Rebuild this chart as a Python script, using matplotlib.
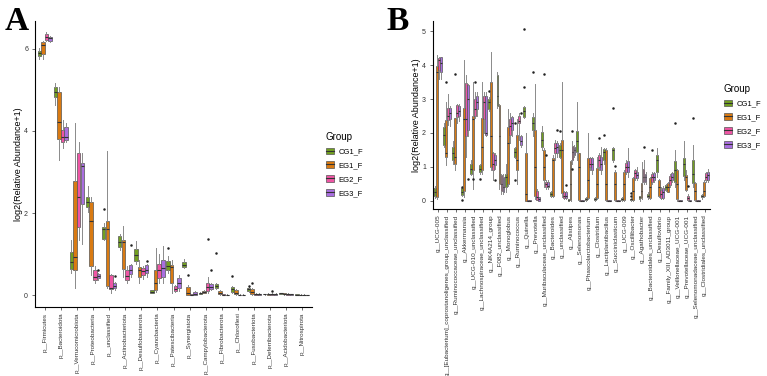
import matplotlib
matplotlib.use('Agg')
import matplotlib.pyplot as plt
from matplotlib.patches import Patch
from matplotlib.lines import Line2D

plt.rcParams['font.family'] = ['Liberation Sans', 'DejaVu Sans']

groups = ['CG1_F', 'EG1_F', 'EG2_F', 'EG3_F']
colors = ['#72a020', '#d97a12', '#ee55a4', '#a96ee0']

# ---- panel A: phyla, (whisker low, q1, median, q3, whisker high) ----
phyla = ['p__Firmicutes', 'p__Bacteroidota', 'p__Verrucomicrobiota', 'p__Proteobacteria',
         'p__unclassified', 'p__Actinobacteriota', 'p__Desulfobacterota', 'p__Cyanobacteria',
         'p__Patescibacteria', 'p__Synergistota', 'p__Campylobacterota', 'p__Fibrobacterota',
         'p__Chloroflexi', 'p__Fusobacteriota', 'p__Deferribacterota', 'p__Acidobacteriota',
         'p__Nitrospirota']

A_CG1 = [(5.75, 5.83, 5.9, 5.96, 6.02), (4.63, 4.82, 4.96, 5.08, 5.18), (0.55, 0.63, 0.8, 1.05, 1.35),
         (2.03, 2.15, 2.28, 2.4, 2.67), (1.34, 1.37, 1.6, 1.67, 1.75), (1.1, 1.17, 1.3, 1.44, 1.48),
         (0.77, 0.83, 0.98, 1.12, 1.33), (0.05, 0.06, 0.08, 0.12, 0.13), (0.55, 0.6, 0.7, 0.83, 0.95),
         (0.66, 0.69, 0.74, 0.8, 0.88), (0.02, 0.03, 0.04, 0.06, 0.07), (0.15, 0.18, 0.22, 0.28, 0.3),
         (0.06, 0.08, 0.15, 0.2, 0.22), (0.08, 0.1, 0.15, 0.18, 0.2), (0.01, 0.02, 0.02, 0.03, 0.03),
         (0.02, 0.03, 0.04, 0.05, 0.05), (0.0, 0.01, 0.01, 0.02, 0.02)]
A_EG1 = [(5.75, 5.88, 6.1, 6.18, 6.2), (3.29, 3.8, 4.23, 4.96, 5.08), (0.18, 0.61, 0.93, 2.78, 4.2),
         (0.5, 0.7, 1.8, 2.28, 2.4), (0.18, 0.22, 1.6, 1.8, 3.52), (0.45, 0.63, 1.3, 1.34, 1.68),
         (0.3, 0.44, 0.6, 0.68, 0.85), (0.08, 0.12, 0.3, 0.61, 1.14), (0.05, 0.3, 0.68, 0.73, 0.85),
         (0.0, 0.01, 0.05, 0.2, 0.25), (0.04, 0.05, 0.07, 0.1, 0.12), (0.0, 0.02, 0.05, 0.1, 0.12),
         (0.0, 0.02, 0.05, 0.12, 0.14), (0.0, 0.02, 0.08, 0.15, 0.17), (0.0, 0.01, 0.02, 0.03, 0.04),
         (0.0, 0.02, 0.03, 0.04, 0.06), (0.0, 0.01, 0.01, 0.01, 0.02)]
A_EG2 = [(6.2, 6.22, 6.3, 6.37, 6.4), (3.59, 3.73, 3.86, 4.02, 4.27), (1.34, 1.66, 2.4, 3.46, 3.74),
         (0.3, 0.38, 0.45, 0.6, 0.7), (0.05, 0.14, 0.18, 0.49, 0.52), (0.3, 0.37, 0.47, 0.61, 0.7),
         (0.4, 0.48, 0.58, 0.65, 0.7), (0.3, 0.42, 0.6, 0.76, 1.0), (0.08, 0.1, 0.15, 0.22, 0.25),
         (0.0, 0.0, 0.01, 0.02, 0.03), (0.05, 0.1, 0.2, 0.3, 0.45), (0.0, 0.0, 0.01, 0.02, 0.02),
         (0.0, 0.0, 0.01, 0.01, 0.02), (0.0, 0.01, 0.02, 0.03, 0.04), (0.0, 0.01, 0.02, 0.03, 0.04),
         (0.0, 0.01, 0.02, 0.03, 0.04), (0.0, 0.0, 0.01, 0.01, 0.02)]
A_EG3 = [(6.18, 6.2, 6.26, 6.3, 6.32), (3.73, 3.78, 3.85, 4.1, 4.2), (1.24, 2.22, 3.15, 3.23, 3.46),
         (0.38, 0.42, 0.47, 0.52, 0.55), (0.12, 0.17, 0.22, 0.29, 0.33), (0.45, 0.51, 0.6, 0.73, 0.75),
         (0.45, 0.53, 0.6, 0.73, 0.75), (0.3, 0.44, 0.65, 0.85, 1.2), (0.1, 0.17, 0.3, 0.42, 0.5),
         (0.0, 0.0, 0.02, 0.08, 0.1), (0.12, 0.14, 0.2, 0.26, 0.3), (0.0, 0.0, 0.01, 0.01, 0.02),
         (0.0, 0.0, 0.01, 0.01, 0.02), (0.0, 0.01, 0.02, 0.03, 0.04), (0.0, 0.01, 0.02, 0.03, 0.04),
         (0.0, 0.01, 0.02, 0.02, 0.03), (0.0, 0.0, 0.01, 0.01, 0.01)]
# (taxon number, group index, value)
A_OUT = [(4, 3, 0.62), (5, 0, 2.1), (5, 3, 0.46), (6, 3, 1.22), (7, 3, 0.83), (9, 0, 1.16),
         (10, 1, 0.48), (11, 2, 1.36), (11, 3, 0.62), (12, 0, 1.03), (13, 0, 0.46), (14, 0, 0.22),
         (14, 1, 0.3), (15, 2, 0.11)]

# ---- panel B: genera ----
genera = ['g__UCG-005', 'g__[Eubacterium]_coprostanoligenes_group_unclassified',
          'g__Ruminococcaceae_unclassified', 'g__Akkermansia', 'g__UCG-010_unclassified',
          'g__Lachnospiraceae_unclassified', 'g__NK4A214_group', 'g__F082_unclassified',
          'g__Monoglobus', 'g__Ruminococcus', 'g__Quinella', 'g__Prevotella',
          'g__Muribaculaceae_unclassified', 'g__Bacteroides', 'g__unclassified', 'g__Alistipes',
          'g__Selenomonas', 'g__Phascolarctobacterium', 'g__Clostridium', 'g__Lactiplantibacillus',
          'g__Succiniclasticum', 'g__UCG-009', 'g__Oscillibacter', 'g__Agathobacter',
          'g__Bacteroidales_unclassified', 'g__Desulfovibrio', 'g__Family_XIII_AD3011_group',
          'g__Veillonellaceae_UCG-001', 'g__Prevotellaceae_UCG-001',
          'g__Selenomonadaceae_unclassified', 'g__Clostridiales_unclassified']

B_CG1 = [(0.08, 0.13, 0.25, 0.37, 0.45), (1.6, 1.65, 1.95, 2.19, 2.3), (1.1, 1.2, 1.4, 1.6, 1.75),
         (0.15, 0.18, 0.25, 0.37, 0.37), (0.75, 0.8, 0.95, 1.1, 1.2), (0.8, 0.86, 0.95, 1.05, 1.1),
         (2.65, 2.7, 2.9, 3.0, 3.05), (2.75, 2.8, 3.1, 3.7, 3.8), (0.25, 0.4, 0.7, 0.8, 1.1),
         (1.25, 1.3, 1.45, 1.55, 1.6), (2.45, 2.48, 2.65, 2.77, 2.8), (1.9, 2.1, 2.3, 2.48, 2.6),
         (1.5, 1.6, 1.8, 2.04, 2.2), (0.1, 0.13, 0.2, 0.27, 0.3), (1.25, 1.3, 1.5, 1.65, 1.7),
         (0.0, 0.01, 0.02, 0.04, 0.05), (1.2, 1.45, 1.75, 2.05, 2.92), (0.0, 0.02, 0.05, 0.08, 0.1),
         (0.0, 0.02, 0.05, 0.08, 0.1), (1.1, 1.2, 1.45, 1.52, 1.55), (1.15, 1.2, 1.5, 1.55, 1.6),
         (0.0, 0.02, 0.05, 0.07, 0.1), (0.0, 0.02, 0.04, 0.06, 0.08), (0.0, 0.05, 0.1, 0.13, 0.15),
         (0.05, 0.1, 0.15, 0.2, 0.25), (0.7, 0.86, 1.2, 1.35, 1.55), (0.3, 0.32, 0.4, 0.47, 0.5),
         (0.4, 0.57, 0.9, 1.16, 1.5), (0.6, 0.72, 1.1, 1.25, 1.75), (0.4, 0.52, 0.8, 1.2, 1.65),
         (0.05, 0.1, 0.15, 0.18, 0.2)]
B_EG1 = [(0.05, 0.1, 3.8, 3.96, 4.3), (1.05, 1.3, 1.4, 2.38, 2.9), (0.9, 1.1, 1.3, 2.43, 2.45),
         (0.1, 0.3, 2.4, 2.73, 4.15), (0.35, 0.9, 2.4, 2.5, 3.5), (0.8, 0.9, 1.6, 2.43, 3.5),
         (0.9, 1.0, 1.9, 3.5, 4.4), (0.35, 0.5, 1.9, 2.82, 2.85), (0.45, 0.5, 1.7, 2.19, 2.7),
         (0.5, 0.9, 1.2, 1.94, 2.4), (0.0, 0.0, 0.2, 1.4, 2.0), (0.05, 0.13, 1.0, 2.1, 3.45),
         (0.4, 0.6, 1.0, 1.5, 1.55), (0.1, 0.13, 1.2, 1.25, 1.35), (0.1, 0.22, 1.5, 1.8, 3.5),
         (0.0, 0.03, 0.5, 1.16, 1.2), (0.0, 0.03, 1.0, 1.4, 1.4), (0.05, 0.08, 0.6, 1.25, 2.0),
         (0.05, 0.08, 0.5, 0.96, 1.3), (0.0, 0.03, 0.5, 1.5, 1.55), (0.0, 0.03, 0.5, 0.86, 0.9),
         (0.0, 0.03, 0.5, 0.86, 0.9), (0.0, 0.03, 0.3, 0.67, 0.7), (0.05, 0.08, 0.3, 0.52, 1.15),
         (0.05, 0.08, 0.4, 0.67, 0.7), (0.1, 0.13, 0.4, 0.62, 0.65), (0.25, 0.27, 0.4, 0.52, 0.55),
         (0.0, 0.05, 0.5, 0.9, 0.95), (0.3, 0.32, 0.7, 0.76, 0.9), (0.0, 0.03, 0.3, 0.52, 0.55),
         (0.1, 0.13, 0.3, 0.57, 0.6)]
B_EG2 = [(3.6, 3.85, 4.15, 4.2, 4.25), (2.25, 2.38, 2.5, 2.73, 3.15), (2.3, 2.48, 2.6, 2.82, 2.85),
         (1.3, 1.9, 2.4, 3.46, 3.7), (2.45, 2.5, 2.7, 3.0, 3.2), (2.0, 2.4, 2.9, 3.1, 3.2),
         (0.6, 0.9, 1.1, 1.4, 1.45), (0.2, 0.3, 0.5, 0.76, 0.8), (1.7, 1.95, 2.2, 2.4, 2.6),
         (1.8, 2.28, 2.35, 2.5, 2.6), (0.0, 0.0, 0.01, 0.02, 0.03), (0.02, 0.03, 0.1, 0.3, 0.35),
         (0.35, 0.4, 0.5, 0.55, 0.6), (1.2, 1.4, 1.55, 1.7, 1.8), (0.05, 0.08, 0.15, 0.27, 0.3),
         (1.1, 1.2, 1.45, 1.62, 1.75), (0.0, 0.0, 0.01, 0.02, 0.03), (0.9, 1.0, 1.1, 1.25, 1.3),
         (0.9, 1.0, 1.2, 1.35, 1.4), (0.0, 0.0, 0.01, 0.02, 0.02), (0.0, 0.0, 0.01, 0.02, 0.02),
         (0.8, 0.86, 1.0, 1.13, 1.2), (0.6, 0.67, 0.82, 0.9, 0.95), (0.5, 0.57, 0.7, 0.93, 1.2),
         (0.5, 0.57, 0.7, 0.8, 0.85), (0.05, 0.08, 0.2, 0.32, 0.4), (0.4, 0.47, 0.6, 0.72, 0.8),
         (0.0, 0.0, 0.01, 0.02, 0.03), (0.0, 0.03, 0.08, 0.15, 0.2), (0.0, 0.0, 0.01, 0.02, 0.02),
         (0.55, 0.62, 0.7, 0.81, 0.85)]
B_EG3 = [(3.6, 3.8, 4.05, 4.25, 4.25), (2.2, 2.4, 2.6, 2.73, 2.8), (2.35, 2.5, 2.65, 2.8, 2.85),
         (1.9, 2.1, 3.0, 3.4, 3.45), (2.5, 2.7, 2.9, 3.1, 3.2), (1.9, 1.95, 2.0, 3.1, 3.2),
         (0.95, 1.05, 1.2, 1.35, 1.4), (0.2, 0.25, 0.4, 0.7, 0.8), (1.9, 2.1, 2.3, 2.48, 2.5),
         (1.6, 1.65, 1.75, 1.9, 1.95), (0.0, 0.0, 0.01, 0.02, 0.02), (0.0, 0.0, 0.05, 0.1, 0.12),
         (0.35, 0.4, 0.45, 0.55, 0.6), (1.3, 1.4, 1.6, 1.7, 1.75), (0.05, 0.08, 0.15, 0.25, 0.3),
         (1.3, 1.35, 1.5, 1.6, 1.65), (0.0, 0.0, 0.01, 0.02, 0.02), (0.8, 0.9, 1.1, 1.25, 1.3),
         (0.8, 0.9, 1.1, 1.3, 1.6), (0.0, 0.0, 0.01, 0.02, 0.02), (0.0, 0.0, 0.01, 0.02, 0.02),
         (0.7, 0.86, 1.0, 1.16, 1.55), (0.6, 0.67, 0.75, 0.86, 1.0), (0.5, 0.57, 0.7, 0.8, 0.85),
         (0.55, 0.6, 0.7, 0.83, 0.85), (0.05, 0.08, 0.25, 0.37, 0.45), (0.55, 0.62, 0.7, 0.81, 0.85),
         (0.0, 0.0, 0.01, 0.02, 0.02), (0.0, 0.0, 0.01, 0.02, 0.02), (0.0, 0.0, 0.01, 0.02, 0.02),
         (0.55, 0.62, 0.75, 0.86, 0.95)]
B_OUT = [(4, 0, 0.03), (4, 0, 0.4), (5, 1, 0.64), (6, 0, 0.64), (7, 0, 3.25), (10, 0, 0.6),
         (10, 0, 2.3), (11, 0, 3.35), (11, 0, 5.05), (12, 0, 3.8), (15, 0, 2.07), (20, 0, 1.95),
         (21, 0, 2.75), (23, 0, 0.24), (23, 0, 0.13), (28, 0, 2.3), (30, 0, 2.45), (2, 1, 3.5),
         (3, 1, 3.75), (13, 1, 3.73), (21, 1, 1.04), (5, 2, 3.5), (13, 2, 1.35), (16, 2, 2.05),
         (16, 2, 0.95), (19, 2, 1.85), (24, 2, 1.6), (25, 2, 1.5), (29, 2, 0.45), (4, 3, 0.65),
         (7, 3, 0.6), (10, 3, 2.6), (14, 3, 2.1), (15, 3, 0.48)]


def draw_panel(ax, all_stats, outliers, labels, lab_size):
    n = len(labels)
    w = 0.9 / 4
    for g, stats in enumerate(all_stats):
        pos = [i + 1 + (g - 1.5) * w for i in range(n)]
        bs = []
        for i, (lo, q1, med, q3, hi) in enumerate(stats):
            fl = [v for (c, gg, v) in outliers if c == i + 1 and gg == g]
            bs.append(dict(whislo=lo, q1=q1, med=med, q3=q3, whishi=hi, fliers=fl))
        ax.bxp(bs, positions=pos, widths=w * 0.95, patch_artist=True, showcaps=False,
               manage_ticks=False,
               boxprops=dict(facecolor=colors[g], edgecolor='#555555', linewidth=0.5),
               whiskerprops=dict(color='#8a8a8a', linewidth=0.7),
               medianprops=dict(color='#333333', linewidth=0.8),
               flierprops=dict(marker='o', markersize=1.8, markerfacecolor='#222222',
                               markeredgecolor='none'))
    ax.set_xlim(0.4, n + 0.6)
    ax.set_xticks(range(1, n + 1))
    ax.set_xticklabels(labels, rotation=90, fontsize=lab_size, color='#333333',
                       va='top', ha='center')
    ax.spines['top'].set_visible(False)
    ax.spines['right'].set_visible(False)
    for s in ['left', 'bottom']:
        ax.spines[s].set_linewidth(0.8)
    ax.tick_params(length=2.5, width=0.5, labelsize=5, colors='#333333', pad=2.5)
    ax.tick_params(axis='x', labelsize=lab_size, pad=1.5)
    ax.set_ylabel('log2(Relative Abundance+1)', fontsize=6.5, labelpad=1)


fig = plt.figure(figsize=(7.67, 3.76), dpi=100)
axA = fig.add_axes([35 / 767, 1 - 307 / 376, 277 / 767, 286 / 376])
axB = fig.add_axes([433 / 767, 1 - 209 / 376, 277 / 767, 188 / 376])

draw_panel(axA, [A_CG1, A_EG1, A_EG2, A_EG3], A_OUT, phyla, 4.5)
axA.set_ylim(-0.29, 6.68)
axA.set_yticks([0, 2, 4, 6])

draw_panel(axB, [B_CG1, B_EG1, B_EG2, B_EG3], B_OUT, genera, 4.6)
axB.set_ylim(-0.24, 5.3)
axB.set_yticks([0, 1, 2, 3, 4, 5])

handles = [(Patch(facecolor=c, edgecolor='#555555', linewidth=0.5),
            Line2D([], [], color='#333333', linewidth=0.8)) for c in colors]
for x0, y0 in [(322, 128), (720, 80)]:
    leg = fig.legend(handles, groups, loc='upper left', bbox_to_anchor=(x0 / 767, 1 - y0 / 376),
                     frameon=False, title='Group', title_fontsize=7, fontsize=5.5,
                     handlelength=1.1, handleheight=1.0, labelspacing=0.75, borderpad=0,
                     handletextpad=0.6, alignment='left')

fig.text(5 / 767, 1 - 6 / 376, 'A', fontsize=24, fontweight='bold', va='top',
         family=['Liberation Serif', 'DejaVu Serif'])
fig.text(386 / 767, 1 - 6 / 376, 'B', fontsize=24, fontweight='bold', va='top',
         family=['Liberation Serif', 'DejaVu Serif'])

fig.savefig('out.png', dpi=100)
